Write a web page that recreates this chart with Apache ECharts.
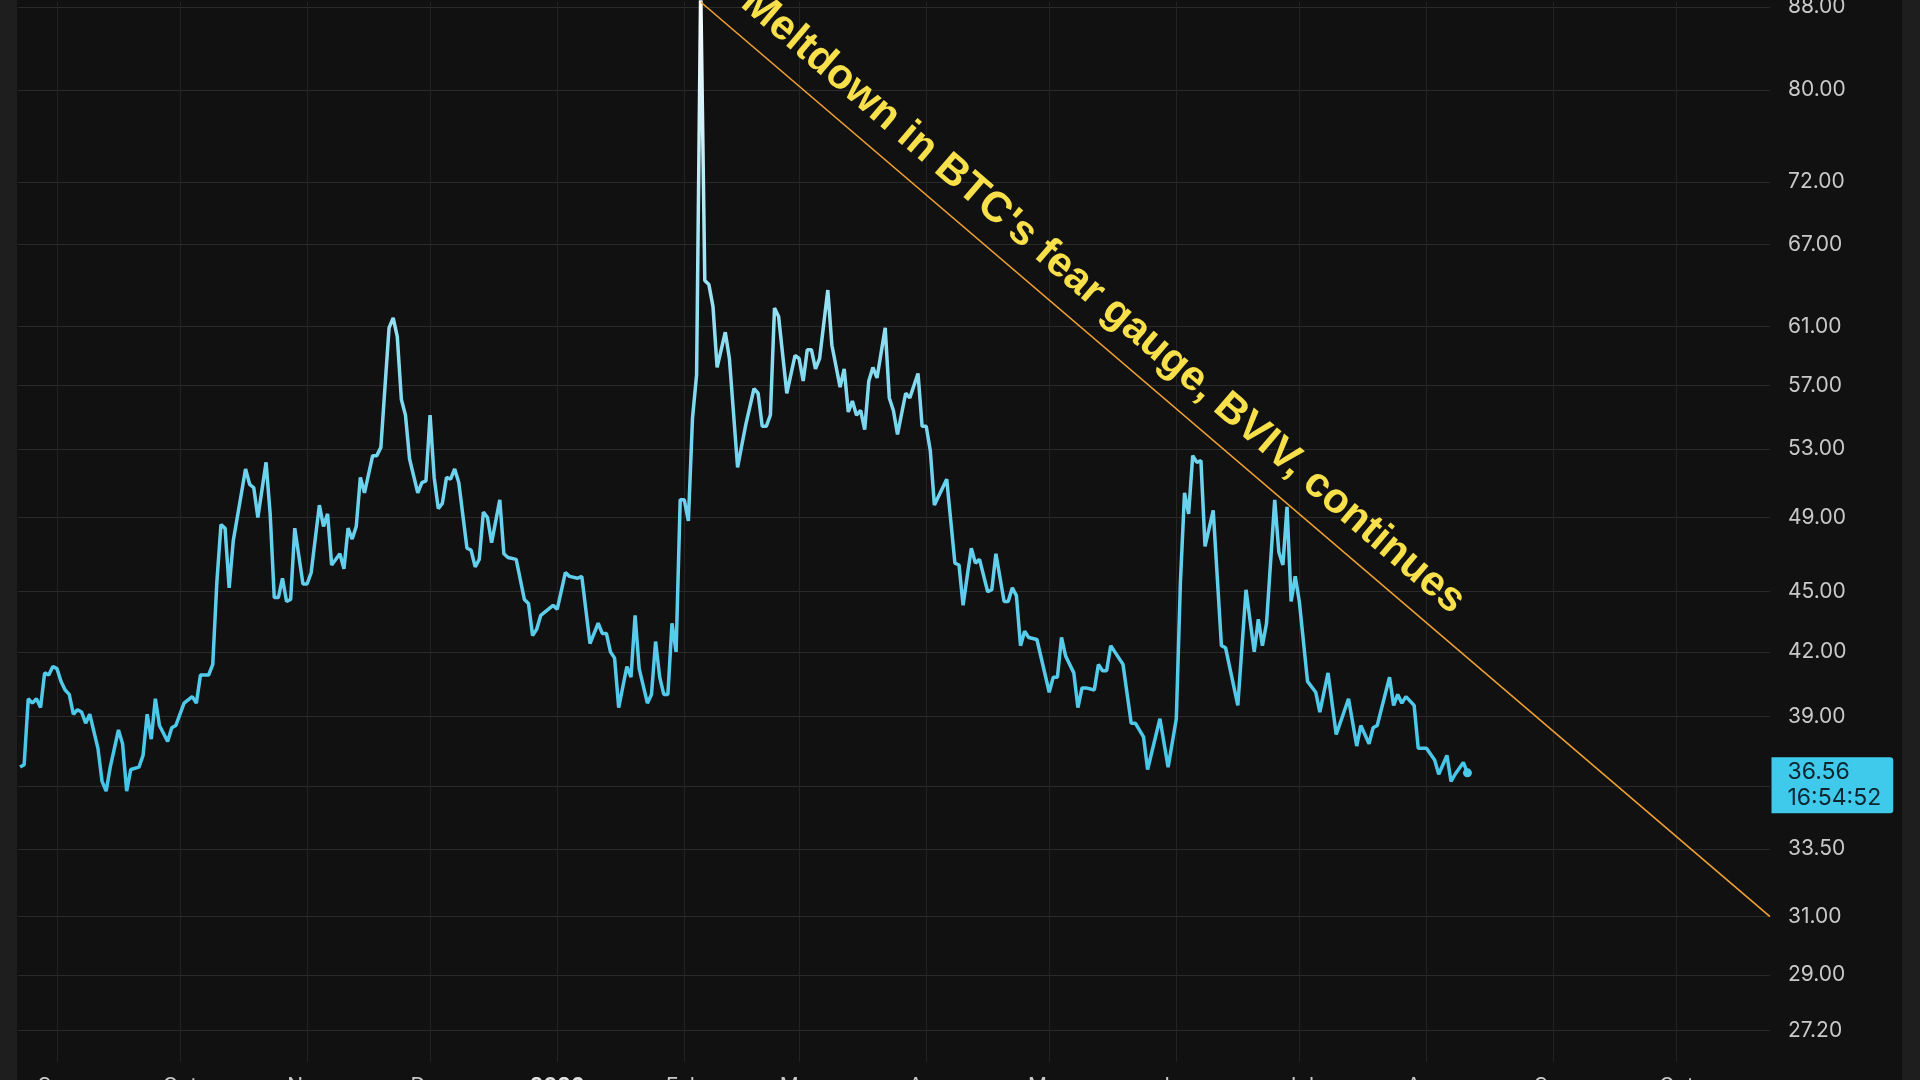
<!DOCTYPE html>
<html><head><meta charset="utf-8">
<script src="https://cdn.jsdelivr.net/npm/echarts@6/dist/echarts.min.js"></script>
<style>
html,body{margin:0;padding:0;background:#1e1e1e;width:1920px;height:1080px;overflow:hidden}
#chart{position:absolute;left:17px;top:0;width:1885px;height:1080px;background:#111111}
</style></head><body><div id="chart"></div>
<script>
const dates = [
'2025-08-23','2025-08-24','2025-08-25','2025-08-26','2025-08-27','2025-08-28','2025-08-29','2025-08-30','2025-08-31',
'2025-09-01','2025-09-02','2025-09-03','2025-09-04','2025-09-05','2025-09-06','2025-09-07','2025-09-08','2025-09-09','2025-09-11','2025-09-12','2025-09-13','2025-09-14','2025-09-16','2025-09-17','2025-09-18','2025-09-19','2025-09-21','2025-09-22','2025-09-23','2025-09-24','2025-09-25','2025-09-26','2025-09-28','2025-09-29','2025-09-30',
'2025-10-02','2025-10-04','2025-10-05','2025-10-06','2025-10-08','2025-10-09','2025-10-10','2025-10-11','2025-10-12','2025-10-13','2025-10-14','2025-10-17','2025-10-18','2025-10-19','2025-10-20','2025-10-22','2025-10-23','2025-10-24','2025-10-25','2025-10-26','2025-10-27','2025-10-28','2025-10-29','2025-10-31',
'2025-11-01','2025-11-02','2025-11-04','2025-11-05','2025-11-06','2025-11-07','2025-11-09','2025-11-10','2025-11-11','2025-11-12','2025-11-13','2025-11-14','2025-11-15','2025-11-17','2025-11-18','2025-11-19','2025-11-20','2025-11-21','2025-11-22','2025-11-23','2025-11-24','2025-11-25','2025-11-26','2025-11-28','2025-11-29','2025-11-30',
'2025-12-01','2025-12-02','2025-12-03','2025-12-04','2025-12-05','2025-12-06','2025-12-07','2025-12-08','2025-12-10','2025-12-11','2025-12-12','2025-12-13','2025-12-14','2025-12-15','2025-12-16','2025-12-18','2025-12-19','2025-12-20','2025-12-22','2025-12-24','2025-12-25','2025-12-26','2025-12-27','2025-12-28','2025-12-31',
'2026-01-01','2026-01-03','2026-01-04','2026-01-06','2026-01-07','2026-01-09','2026-01-11','2026-01-12','2026-01-13','2026-01-14','2026-01-15','2026-01-16','2026-01-18','2026-01-19','2026-01-20','2026-01-21','2026-01-23','2026-01-24','2026-01-25','2026-01-26','2026-01-27','2026-01-28','2026-01-29','2026-01-30','2026-01-31',
'2026-02-01','2026-02-02','2026-02-03','2026-02-04','2026-02-05','2026-02-06','2026-02-07','2026-02-08','2026-02-09','2026-02-11','2026-02-12','2026-02-14','2026-02-15','2026-02-16','2026-02-18','2026-02-19','2026-02-20','2026-02-21','2026-02-22','2026-02-23','2026-02-24','2026-02-26','2026-02-28',
'2026-03-01','2026-03-02','2026-03-03','2026-03-04','2026-03-05','2026-03-06','2026-03-08','2026-03-09','2026-03-11','2026-03-12','2026-03-13','2026-03-14','2026-03-15','2026-03-16','2026-03-17','2026-03-18','2026-03-19','2026-03-20','2026-03-22','2026-03-23','2026-03-24','2026-03-25','2026-03-27','2026-03-28','2026-03-30','2026-03-31',
'2026-04-01','2026-04-02','2026-04-03','2026-04-06','2026-04-08','2026-04-09','2026-04-10','2026-04-11','2026-04-12','2026-04-13','2026-04-14','2026-04-16','2026-04-17','2026-04-18','2026-04-20','2026-04-21','2026-04-22','2026-04-23','2026-04-24','2026-04-25','2026-04-26','2026-04-28',
'2026-05-01','2026-05-02','2026-05-03','2026-05-04','2026-05-05','2026-05-07','2026-05-08','2026-05-09','2026-05-10','2026-05-12','2026-05-13','2026-05-14','2026-05-15','2026-05-16','2026-05-19','2026-05-21','2026-05-22','2026-05-24','2026-05-25','2026-05-28','2026-05-30',
'2026-06-01','2026-06-02','2026-06-03','2026-06-04','2026-06-05','2026-06-06','2026-06-07','2026-06-08','2026-06-10','2026-06-12','2026-06-13','2026-06-16','2026-06-18','2026-06-20','2026-06-21','2026-06-22','2026-06-23','2026-06-25','2026-06-26','2026-06-27','2026-06-28','2026-06-29','2026-06-30',
'2026-07-01','2026-07-03','2026-07-05','2026-07-06','2026-07-08','2026-07-10','2026-07-13','2026-07-15','2026-07-16','2026-07-18','2026-07-19','2026-07-20','2026-07-23','2026-07-24','2026-07-25','2026-07-26','2026-07-27','2026-07-29','2026-07-30',
'2026-08-01','2026-08-03','2026-08-04','2026-08-06','2026-08-07','2026-08-08','2026-08-10','2026-08-11'
];
const values = [
36.8,36.9,39.8,39.6,39.8,39.4,41.0,40.9,41.3,
41.2,40.6,40.2,40.0,39.1,39.3,39.2,38.7,39.1,37.6,36.2,35.8,36.8,38.4,37.8,35.8,36.7,36.8,37.3,39.1,38.0,39.8,38.6,37.9,38.5,38.6,
39.6,39.9,39.6,40.9,40.9,41.4,45.5,48.6,48.4,45.2,47.7,51.8,50.9,50.7,49.0,52.2,49.2,44.7,44.7,45.7,44.5,44.6,48.4,45.4,
45.4,46.0,49.7,48.5,49.2,46.4,47.0,46.2,48.4,47.8,48.5,51.3,50.4,52.6,52.6,53.1,56.9,60.9,61.6,60.3,56.1,55.1,52.4,50.4,51.0,51.1,
55.1,51.3,49.5,49.8,51.3,51.2,51.8,51.0,47.3,47.2,46.3,46.7,49.3,49.0,47.6,50.0,47.0,46.8,46.7,44.6,44.4,42.8,43.1,43.8,44.3,
44.1,46.0,45.8,45.7,45.8,42.4,43.4,42.9,42.9,42.0,41.7,39.4,41.3,40.8,43.8,41.2,39.6,40.0,42.5,40.8,40.0,40.0,43.4,42.0,50.0,
50.0,48.8,54.9,57.7,90.0,64.3,64.0,62.4,58.2,60.6,58.8,51.9,53.2,54.5,56.8,56.5,54.4,54.4,55.1,62.3,61.7,56.5,59.0,
58.8,57.3,59.4,59.4,58.1,58.8,63.6,59.7,56.9,58.1,55.3,56.0,55.1,55.4,54.2,57.3,58.2,57.5,60.9,56.2,55.4,53.9,56.5,56.2,57.8,54.4,
54.4,52.9,49.7,51.2,46.5,46.4,44.3,45.8,47.3,46.5,46.7,45.0,45.1,47.0,44.5,44.5,45.2,44.8,42.3,43.0,42.7,42.6,
40.1,40.8,40.8,42.7,41.8,41.0,39.4,40.3,40.3,40.2,41.4,41.1,41.1,42.3,41.4,38.7,38.7,38.1,36.7,38.9,36.8,
38.9,45.5,50.4,49.2,52.6,52.2,52.3,47.4,49.4,42.3,42.2,39.5,45.1,42.0,43.6,42.3,43.4,50.0,47.1,46.4,49.6,44.5,45.8,
44.5,40.6,40.1,39.2,41.0,38.2,39.8,37.7,38.6,37.8,38.5,38.6,40.8,39.5,40.0,39.6,39.9,39.5,37.6,
37.6,37.1,36.5,37.3,36.2,36.5,37.0,36.56
];
const yTicks = [27.2, 29, 31, 33.5, 36, 39, 42, 45, 49, 53, 57, 61, 67, 72, 80, 88];
const yTickLabels = ['27.20','29.00','31.00','33.50','','39.00','42.00','45.00','49.00','53.00','57.00','61.00','67.00','72.00','80.00','88.00'];
const monthTicks = ['2025-09-01','2025-10-01','2025-11-01','2025-12-01','2026-01-01','2026-02-01','2026-03-01','2026-04-01','2026-05-01','2026-06-01','2026-07-01','2026-08-01','2026-09-01','2026-10-01'];
const monthLabels = ['Sep','Oct','Nov','Dec','2026','Feb','Mar','Apr','May','Jun','Jul','Aug','Sep','Oct'];
const xMin = '2025-08-22 12:00';
const xMax = '2026-10-23 19:00';
const yMin = 26.24, yMax = 88.5;
const lastValue = 36.56;
const lastTime = '16:54:52';
const trendStart = ['2026-02-05', 88.5];
const trendEnd = [xMax, 31];
const annotation = "Meltdown in BTC's fear gauge, BVIV, continues";

function ts(s) {
  const [d, t] = s.split(' ');
  const [y, m, dd] = d.split('-').map(Number);
  let hh = 0, mm = 0;
  if (t) { [hh, mm] = t.split(':').map(Number); }
  return new Date(y, m - 1, dd, hh, mm).getTime();
}
const monthTs = monthTicks.map(ts);
const seriesData = dates.map((d, i) => {
  const item = { value: [ts(d), values[i]] };
  if (i === dates.length - 1) { item.symbol = 'circle'; item.symbolSize = 9; }
  return item;
});

const FONT = 'Inter, "Noto Sans", sans-serif';
const chart = echarts.init(document.getElementById('chart'), null, { renderer: 'canvas' });
chart.setOption({
  animation: false,
  backgroundColor: '#111111',
  grid: { left: 1, right: 132, top: 2, bottom: 18, containLabel: false, outerBoundsMode: 'none' },
  xAxis: {
    type: 'value', min: ts(xMin), max: ts(xMax), scale: true,
    axisLine: { show: false }, axisTick: { show: false, customValues: monthTs },
    splitLine: { show: true, lineStyle: { color: '#232323', width: 1 } },
    axisLabel: {
      customValues: monthTs, margin: 14, color: '#c9c9c9', fontFamily: FONT, fontSize: 21,
      formatter: function (v) {
        const i = monthTs.findIndex(t => Math.abs(t - v) < 3600000);
        if (i < 0) return '';
        const s = monthLabels[i];
        return /^\d{4}$/.test(s) ? '{y|' + s + '}' : s;
      },
      rich: { y: { fontWeight: 'bold', color: '#e0e0e0', fontFamily: FONT, fontSize: 21 } }
    }
  },
  yAxis: {
    type: 'log', logBase: 10, min: yMin, max: yMax, position: 'right',
    axisLine: { show: false }, axisTick: { show: false, customValues: yTicks },
    splitLine: { show: true, lineStyle: { color: '#2a2a2a', width: 1 } },
    axisLabel: {
      customValues: yTicks, margin: 18, color: '#c9c9c9', fontFamily: FONT, fontSize: 21,
      formatter: function (v) {
        const i = yTicks.findIndex(t => Math.abs(t - v) < 1e-6);
        return i < 0 ? '' : yTickLabels[i];
      }
    }
  },
  series: [{
    type: 'line', data: seriesData, symbol: 'none', showSymbol: true,
    itemStyle: { color: '#4cc9ea' },
    lineStyle: {
      width: 3.5,
      color: new echarts.graphic.LinearGradient(0, 0, 0, 1, [
        { offset: 0, color: '#ffffff' },
        { offset: 0.3, color: '#a9e6f5' },
        { offset: 0.6, color: '#6fd3ee' },
        { offset: 1, color: '#43c5e8' }
      ])
    },
    markLine: {
      silent: true, symbol: ['none', 'none'],
      lineStyle: { color: '#f0a032', width: 1.6, type: 'solid' },
      label: {
        show: true, position: 'insideStartTop', distance: [32, 13],
        formatter: annotation, color: '#f7e04a', fontSize: 42, fontWeight: 'bold',
        fontFamily: '"Liberation Sans", Arial, sans-serif'
      },
      data: [[{ coord: [ts(trendStart[0]), trendStart[1]] }, { coord: [ts(trendEnd[0]), trendEnd[1]] }]]
    },
    markPoint: {
      silent: true, symbol: 'circle', symbolSize: 1, itemStyle: { color: 'rgba(0,0,0,0)' },
      label: {
        show: true, position: [2, -15], formatter: lastValue.toFixed(2) + '\n' + lastTime,
        backgroundColor: '#3fcaec', color: '#0a2630', fontFamily: FONT, fontSize: 23, lineHeight: 26,
        padding: [2, 12, 2, 16], borderRadius: [0, 3, 3, 0], align: 'left'
      },
      data: [{ coord: [ts(xMax), lastValue] }]
    }
  }]
});
</script></body></html>
